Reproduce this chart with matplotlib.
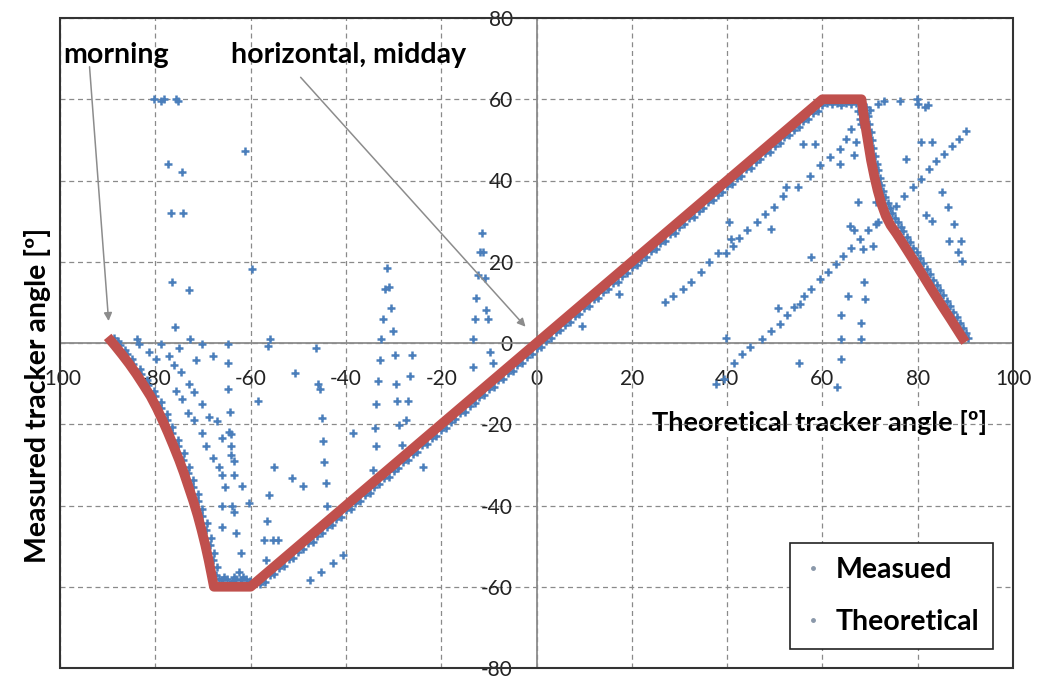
import matplotlib
matplotlib.use("Agg")
import matplotlib.pyplot as plt
from matplotlib.lines import Line2D
from matplotlib.patches import Rectangle
import numpy as np

plt.rcParams['font.family'] = ['Lato', 'DejaVu Sans']
plt.rcParams['axes.unicode_minus'] = False

# theoretical tracker angle curve (vertices)
theo_x = [-90, -88.5, -87, -85.5, -84, -82.5, -81, -79.7, -78.5, -77.3, -76.2, -75, -74, -73,
          -72, -71.1, -70.3, -69.5, -68.8, -68.2, -67.7,
          -60, 0, 60, 68.2,
          68.8, 69.5, 70.2, 70.9, 71.6, 72.4, 73.3, 74.3, 75.5, 77, 79, 81, 83, 85, 87, 89, 90]
theo_y = [1.5, -0.6, -2.8, -5.1, -7.6, -10.3, -13.1, -16, -19, -22.2, -25.3, -28.8, -32, -35.5,
          -39, -42.5, -46, -49.8, -53.5, -57, -60,
          -60, 0, 60, 60,
          55, 50, 45, 41, 37.5, 34.2, 31.3, 29, 27, 24.3, 20.6, 16.8, 13, 9.3, 5.7, 2, 0.2]

# measured points lying along the theoretical curve (morning branch)
band_morning = [
    (-88.6, 1.2), (-87.5, -0.6), (-86, -2.8), (-84.6, -5.1), (-83.1, -7.6), (-81.6, -10.3),
    (-80.1, -13.1), (-78.8, -16), (-77.6, -19), (-76.4, -22.2), (-75.2, -25.3), (-74.1, -28.8),
    (-73.1, -32), (-72.1, -35.5), (-71.1, -39), (-70.2, -42.5), (-69.4, -46), (-68.6, -49.8),
    (-67.9, -53.5), (-67.3, -57),
    (-87.8, 0.5), (-86.4, -1.7), (-84.9, -4), (-83.3, -6.4), (-81.8, -9), (-80.3, -11.7),
    (-78.9, -14.5), (-77.6, -17.5), (-76.4, -20.6), (-75.2, -23.8), (-74, -27), (-73, -30.4),
    (-72, -33.8), (-71, -37.2), (-70.1, -40.8), (-69.2, -44.3), (-68.4, -48), (-67.7, -51.6),
    (-67.1, -55.2), (-66.6, -58.2),
    (-66, -58.4), (-65, -58.0), (-64, -58.5), (-63, -58.1), (-62, -58.4), (-61, -58.0),
    (-60.2, -58.6), (-65.5, -57.6), (-63.5, -57.7), (-61.5, -57.6),
]

# measured points along the central (midday) straight part
band_midday = [
    (-58, -59.4), (-56, -57.2), (-54, -55.5), (-52, -53.2), (-50, -51.4), (-48, -49.2),
    (-46, -47.5), (-44, -45.3), (-42, -43.4), (-40, -41.2), (-38, -39.5), (-36, -37.3),
    (-34, -35.4), (-32, -33.2), (-30, -31.5), (-28, -29.3), (-26, -27.4), (-24, -25.2),
    (-22, -23.5), (-20, -21.3), (-18, -19.4), (-16, -17.2), (-14, -15.5), (-12, -13.3),
    (-10, -11.4), (-8, -9.2), (-6, -7.5), (-4, -5.3), (-2, -3.4), (0, -1.2), (2, 0.6),
    (4, 2.8), (6, 4.5), (8, 6.7), (10, 8.6), (12, 10.8), (14, 12.5), (16, 14.7), (18, 16.6),
    (20, 18.8), (22, 20.5), (24, 22.7), (26, 24.6), (28, 26.8), (30, 28.5), (32, 30.7),
    (34, 32.6), (36, 34.8), (38, 36.5), (40, 38.7), (42, 40.6), (44, 42.8), (46, 44.5),
    (48, 46.7), (50, 48.6), (52, 50.8), (54, 52.5), (56, 54.7), (58, 56.6), (60, 58.7),
    (-57, -58.8), (-55, -56.9), (-53, -54.8), (-51, -52.9), (-49, -50.8), (-47, -48.9),
    (-45, -46.8), (-43, -44.9), (-41, -42.8), (-39, -40.9), (-37, -38.8), (-35, -36.9),
    (-33, -34.8), (-31, -32.9), (-29, -30.8), (-27, -28.9), (-25, -26.8), (-23, -24.9),
    (-21, -22.8), (-19, -20.9), (-17, -18.8), (-15, -16.9), (-13, -14.8), (-11, -12.9),
    (-9, -10.8), (-7, -8.9), (-5, -6.8), (-3, -4.9), (-1, -2.8), (1, -0.9), (3, 1.2),
    (5, 3.1), (7, 5.2), (9, 7.1), (11, 9.2), (13, 11.1), (15, 13.2), (17, 15.1), (19, 17.2),
    (21, 19.1), (23, 21.2), (25, 23.1), (27, 25.2), (29, 27.1), (31, 29.2), (33, 31.1),
    (35, 33.2), (37, 35.1), (39, 37.2), (41, 39.1), (43, 41.2), (45, 43.1), (47, 45.2),
    (49, 47.1), (51, 49.2), (53, 51.1), (55, 53.2), (57, 55.1), (59, 57.2),
]

# measured points along the evening branch
band_evening = [
    (61, 59.0), (62, 58.8), (63, 59.1), (64, 58.7), (65, 59.0), (66, 58.8), (67, 59.1), (68, 58.9),
    (69.6, 56), (70.1, 52), (70.7, 48), (71.4, 44), (72.1, 40.5), (72.8, 37.5), (73.7, 34.5),
    (74.6, 32), (75.8, 29.8), (77, 27.5), (78.4, 24.8), (79.8, 22.3), (81.2, 19.6), (82.6, 17),
    (84, 14.3), (85.4, 11.7), (86.8, 9), (88.2, 6.3), (89.5, 3.6), (90.5, 1.2),
    (69.2, 58), (69.8, 54), (70.4, 50), (71.1, 46), (71.7, 42.5), (72.4, 39), (73.2, 36),
    (74.1, 33.2), (75.2, 30.8), (76.4, 28.6), (77.7, 26.1), (79.1, 23.5), (80.5, 21), (81.9, 18.3),
    (83.3, 15.6), (84.7, 13), (86.1, 10.3), (87.5, 7.6), (88.9, 5), (90.1, 2.5),
]

# scattered measured points away from the curve
outlier_pts = [
    (-80.3, 60), (-78.8, 59.5), (-78.1, 60), (-75.7, 60), (-75.2, 59.5),
    (-61.1, 47.2), (-77.4, 44.0), (-74.3, 42.1), (-76.7, 31.9), (-74.1, 31.9),
    (-59.7, 18.2), (-76.4, 15.1), (-73.0, 13.1), (-75.8, 4.0),
    (-83.9, 0.9), (-83.4, -0.3), (-78.8, -0.3), (-72.7, 0.9), (-70.1, -0.3), (-64.8, -0.3),
    (-55.9, 0.9), (-56.4, -0.7),
    (-81.4, -2.2), (-79.9, -4.0), (-77.1, -3.2), (-75.0, -1.2), (-76.0, -5.3), (-71.5, -4.3),
    (-67.8, -3.2), (-64.8, -4.9), (-74.6, -7.2), (-75.7, -11.9), (-73.0, -10.0), (-71.8, -12.1),
    (-74.3, -13.7), (-64.8, -11.3), (-58.5, -14.3), (-50.6, -7.3),
    (-73.2, -17.2), (-70.1, -15.1), (-71.8, -19.0), (-68.8, -18.2), (-67.1, -19.3), (-64.3, -17.0),
    (-70.2, -22.1), (-65.9, -23.4), (-64.2, -22.5), (-64.5, -21.8), (-69.4, -25.4), (-64.1, -25.4),
    (-67.8, -28.3), (-64.1, -27.5), (-63.4, -29.1), (-66.6, -30.4), (-65.9, -32.4), (-63.4, -32.4),
    (-61.8, -35.1), (-65.3, -35.5), (-55.0, -30.4), (-51.3, -33.3), (-49.1, -35.1),
    (-65.9, -40.1), (-63.8, -40.0), (-63.4, -41.5), (-60.3, -39.4), (-56.1, -37.4), (-56.6, -43.7),
    (-65.9, -45.2), (-63.1, -46.8), (-57.1, -48.5), (-55.4, -48.5), (-54.3, -48.5), (-62.0, -51.8),
    (-56.8, -53.4), (-62.4, -56.3),
    (-46.2, -1.2), (-45.8, -10.2), (-45.5, -11.4), (-45.1, -18.4), (-44.9, -24.2), (-44.6, -29.4),
    (-44.2, -34.5), (-43.9, -40.2), (-38.5, -22.1), (-40.7, -52.2), (-42.8, -54.2), (-45.3, -56.3),
    (-47.6, -58.4),
    (-31.3, 18.4), (-31.8, 13.4), (-30.9, 13.7), (-30.6, 8.7), (-32.3, 6.0), (-30.2, 3.0),
    (-32.7, 1.1), (-32.9, -4.2), (-29.7, -3.0), (-26.2, -3.0), (-33.2, -9.4), (-29.5, -10.0),
    (-26.6, -8.0), (-33.6, -14.9), (-29.2, -14.3), (-26.9, -14.3), (-33.9, -20.9), (-28.9, -20.1),
    (-27.3, -19.0), (-33.7, -25.4), (-28.3, -25.0), (-34.3, -31.2), (-23.8, -30.4),
    (-11.5, 27.2), (-11.9, 22.3), (-11.2, 22.3), (-12.2, 16.7), (-10.8, 15.9), (-12.6, 11.2),
    (-12.9, 6.0), (-10.1, 6.0), (-10.6, 8.1), (-13.3, 1.1), (-9.8, -2.2), (-9.1, -4.9), (-13.4, -5.8),
    (9.6, 4.3), (17.3, 12.1),
    (26.9, 10.0), (28.6, 11.6), (30.7, 13.3), (32.4, 14.9), (34.5, 17.5), (36.3, 20.0), (38.0, 22.1),
    (39.7, 22.1), (41.2, 24.0), (42.6, 25.8), (44.1, 27.9), (46.2, 29.7), (48.0, 31.8), (49.9, 33.4),
    (51.8, 36.1), (52.4, 38.4), (54.8, 38.4), (57.3, 41.2), (59.4, 43.7), (61.5, 45.8), (63.6, 47.8),
    (65.0, 50.3), (66.0, 52.8), (67.8, 55.2), (69.9, 57.3), (71.6, 58.9), (73.0, 59.5), (76.2, 59.5),
    (79.9, 60.0), (80.1, 58.9), (81.5, 58.1), (82.2, 58.7),
    (37.6, -10.1), (39.3, -8.9), (41.4, -4.8), (43.2, -2.7), (44.9, -1.1), (47.4, 1.0), (49.3, 2.9),
    (51.1, 4.7), (52.6, 7.0), (54.0, 8.8), (55.2, 9.5), (56.2, 11.6), (57.6, 13.3), (59.4, 15.7),
    (61.1, 17.4), (62.9, 19.4), (64.3, 21.5), (66.0, 23.5), (67.8, 25.6), (69.5, 27.7), (71.3, 29.3),
    (73.4, 31.4), (75.5, 33.8), (77.2, 36.3), (79.0, 38.4), (80.7, 40.4), (82.4, 42.9), (83.8, 44.9),
    (85.6, 46.6), (87.3, 48.6), (88.7, 50.3), (90.1, 52.3),
    (39.8, 1.3), (50.6, 8.7), (55.0, -4.8), (63.1, -10.9), (63.8, -4.0), (63.9, 1.0), (68.0, 1.0),
    (63.9, 6.9), (68.0, 5.0), (65.3, 11.6), (68.8, 15.1), (69.0, 10.9), (57.6, 21.1), (65.7, 28.9),
    (66.7, 27.7), (67.4, 34.6), (66.7, 46.2), (63.6, 44.1), (55.9, 49.1), (58.5, 49.1), (49.2, 28.1),
    (40.5, 29.7), (40.8, 25.6), (71.3, 34.6), (71.6, 29.7), (77.6, 45.3), (80.7, 49.5), (83.0, 49.5),
    (81.7, 31.4), (83.1, 30.1), (85.2, 37.1), (86.3, 33.4), (87.7, 29.3), (86.6, 25.2), (89.1, 25.2),
    (88.4, 22.3), (89.4, 20.2), (68.5, 23.1), (70.6, 24.0),
    (67.5, 57), (68.2, 54), (69.0, 56.5), (67.0, 49.5),
]

x_ticks = list(range(-100, 101, 20))
y_ticks = list(range(-80, 81, 20))

blue = '#4A7EBB'
red = '#C0504D'

fig = plt.figure(figsize=(10.63, 6.81), dpi=100)
ax = fig.add_axes([60 / 1063, 13 / 681, 953 / 1063, 650 / 681])

meas = np.array(band_morning + band_midday + band_evening + outlier_pts)
ax.plot(meas[:, 0], meas[:, 1], ls='none', marker='+', ms=5.5, mew=1.8, color=blue, zorder=3)
ax.plot(theo_x, theo_y, color=red, lw=7, solid_capstyle='butt', solid_joinstyle='round', zorder=4)

ax.set_xlim(-100, 100)
ax.set_ylim(-80, 80)
ax.set_xticks(x_ticks)
ax.set_yticks(y_ticks)
ax.grid(True, color='#8a8a8a', ls=(0, (4, 3)), lw=0.9)
ax.set_axisbelow(True)

for s in ['top', 'right']:
    ax.spines[s].set_visible(False)
ax.spines['left'].set_position(('data', 0))
ax.spines['bottom'].set_position(('data', 0))
for s in ['left', 'bottom']:
    ax.spines[s].set_color('#8c8c8c')
    ax.spines[s].set_linewidth(1.3)
    ax.spines[s].set_zorder(2)

ax.tick_params(axis='x', length=0, pad=19, labelsize=15, labelcolor='#222222')
ax.tick_params(axis='y', length=0, pad=17, labelsize=15, labelcolor='#222222')

# outer frame of the plot area
ax.add_patch(Rectangle((0, 0), 1, 1, transform=ax.transAxes, fill=False,
                       ec='#333333', lw=1.5, clip_on=False, zorder=5))

ax.set_xlabel('Theoretical tracker angle [º]', fontsize=19.5, fontweight='bold',
              bbox=dict(facecolor='white', edgecolor='none', pad=1))
ax.xaxis.set_label_coords(0.7975, 0.377)
ax.xaxis.label.set_va('center')
ax.set_ylabel('Measured tracker angle [º]', fontsize=20.5, fontweight='bold')
ax.yaxis.set_label_coords(-0.024, 0.42)
ax.yaxis.label.set_va('center')

# annotations
arrow = dict(arrowstyle='-|>', color='#8c8c8c', lw=1.1, mutation_scale=12, shrinkA=0, shrinkB=0)
ax.text(-99.3, 71, 'morning', fontsize=20.5, fontweight='bold', va='center', ha='left', zorder=6)
ax.annotate('', xy=(-89.8, 5.4), xytext=(-93.8, 68), arrowprops=arrow, zorder=6)
ax.text(-64.2, 71, 'horizontal, midday', fontsize=20.5, fontweight='bold', va='center', ha='left', zorder=6)
ax.annotate('', xy=(-2.3, 4.0), xytext=(-49.5, 65.4), arrowprops=arrow, zorder=6)

handles = [Line2D([], [], ls='none', marker='o', ms=2.5, color='#8a98aa'),
           Line2D([], [], ls='none', marker='o', ms=2.5, color='#8a98aa')]
leg = ax.legend(handles, ['Measued', 'Theoretical'], loc='lower left',
                bbox_to_anchor=(0.766, 0.029), fancybox=False, framealpha=1,
                edgecolor='#222222', prop={'weight': 'bold', 'size': 20.5},
                labelspacing=0.9, handlelength=0.6, handletextpad=0.5,
                borderpad=0.5, borderaxespad=0)
leg.get_frame().set_linewidth(1.2)
leg.set_zorder(7)

fig.savefig('out.png', dpi=100)
